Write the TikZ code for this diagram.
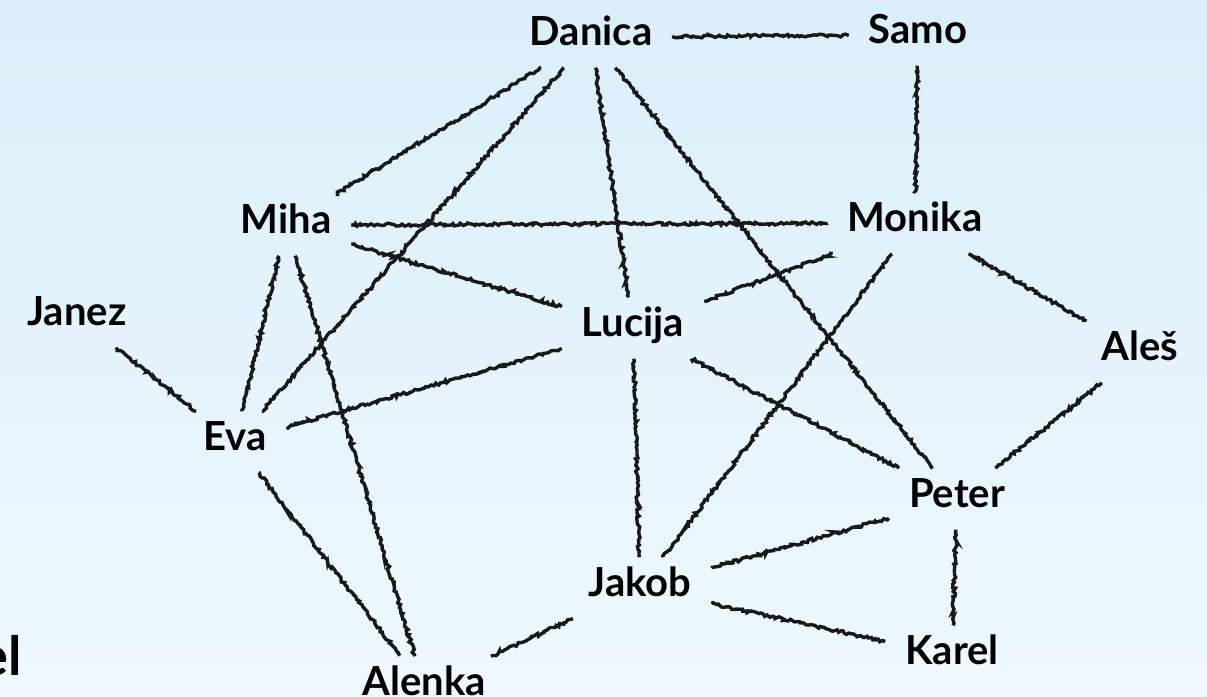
\documentclass[tikz,border=0pt]{standalone}
\usepackage{fontspec}
\setmainfont{Lato}
\usepackage{xcolor}
\usepackage{tikz}
\usetikzlibrary{%
  decorations.pathmorphing,
  backgrounds}
\definecolor{bgtop}{RGB}{218,239,250}
\definecolor{bgbottom}{RGB}{239,248,254}
\tikzset{
  %% Person names
  person/.style={
    rectangle, inner sep=3pt, outer sep=7pt,
    font=\fontsize{20}{24}\selectfont\bfseries,
    text height=0.95em, text depth=0.12em,
    anchor=center, yshift=-2.5pt},
  %% Hand drawn links
  link/.style={
    line width=1.7pt, black!90,
    decorate, decoration={random steps, segment length=1.1pt, amplitude=0.75pt}},
}

\begin{document}
\begin{tikzpicture}[x=0.5pt, y=-0.5pt]

  %% Background
  \useasboundingbox (0,0) rectangle (1207,697);
  \fill[top color=bgtop, bottom color=bgbottom] (0,0) rectangle (1207,697);

  %% Names
  \node[person] (danica) at (591,32)  {Danica};
  \node[person] (samo)   at (918,30)  {Samo};
  \node[person] (miha)   at (286,220) {Miha};
  \node[person] (monika) at (915,218) {Monika};
  \node[person] (janez)  at (77,312)  {Janez};
  \node[person] (lucija) at (633,323) {Lucija};
  \node[person] (ales)   at (1140,347){Aleš};
  \node[person] (eva)    at (235,437) {Eva};
  \node[person] (peter)  at (957,494) {Peter};
  \node[person] (jakob)  at (640,583) {Jakob};
  \node[person] (karel)  at (952,651) {Karel};
  \node[person] (alenka) at (424,682) {Alenka};

  %% Cut-off text at the left edge
  \node[anchor=base east, inner sep=0pt,
        font=\fontsize{27}{30}\selectfont\bfseries] (cut) at (22,675) {el};

  %% Links
  \draw[link] (danica) -- (samo);
  \draw[link] (danica) -- (miha);
  \draw[link] (danica) -- (eva);
  \draw[link] (danica) -- (lucija);
  \draw[link] (danica) -- (peter);
  \draw[link] (samo)   -- (monika);
  \draw[link] (miha)   -- (monika);
  \draw[link] (miha)   -- (lucija);
  \draw[link] (miha)   -- (eva);
  \draw[link] (miha)   -- (alenka);
  \draw[link] (monika) -- (lucija);
  \draw[link] (monika) -- (jakob);
  \draw[link] (monika) -- (ales);
  \draw[link] (lucija) -- (eva);
  \draw[link] (lucija) -- (jakob);
  \draw[link] (lucija) -- (peter);
  \draw[link] (ales)   -- (peter);
  \draw[link] (janez)  -- (eva);
  \draw[link] (eva)    -- (alenka);
  \draw[link] (jakob)  -- (peter);
  \draw[link] (jakob)  -- (karel);
  \draw[link] (jakob)  -- (alenka);
  \draw[link] (peter)  -- (karel);

\end{tikzpicture}
\end{document}
